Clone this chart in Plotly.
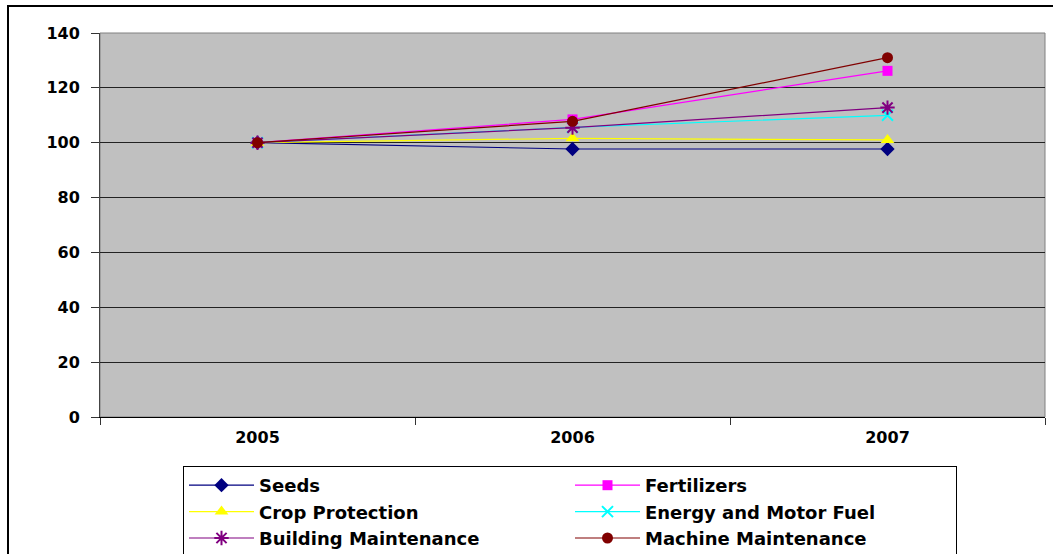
import plotly.graph_objects as go

years = ["2005", "2006", "2007"]
seeds = [100, 97.7, 97.7]
fertilizers = [100, 108.5, 126.2]
crop_protection = [100, 101.6, 101.0]
energy = [100, 105.6, 110.0]
building = [100, 105.5, 112.8]
machine = [100, 107.8, 131.0]
y_ticks = [0, 20, 40, 60, 80, 100, 120, 140]

series = [
    ("Seeds", seeds, "#000080", "diamond", 11),
    ("Fertilizers", fertilizers, "#FF00FF", "square", 10),
    ("Crop Protection", crop_protection, "#FFFF00", "triangle-up", 12),
    ("Energy and Motor Fuel", energy, "#00FFFF", "x-thin-open", 11),
    ("Building Maintenance", building, "#800080", "asterisk-open", 12),
    ("Machine Maintenance", machine, "#800000", "circle", 11),
]

fig = go.Figure()
for name, vals, color, sym, sz in series:
    fig.add_trace(go.Scatter(
        x=years, y=vals, name=name, mode="lines+markers",
        line=dict(color=color, width=1.2),
        marker=dict(symbol=sym, size=sz, color=color,
                    line=dict(color=color, width=2 if "open" in sym else 0)),
    ))

font_bold = dict(family="DejaVu Sans", size=16, color="black", weight="bold")

W, H = 1053, 554
fig.update_layout(
    width=W, height=H,
    margin=dict(l=100, r=8, t=33, b=137, autoexpand=False),
    paper_bgcolor="white",
    plot_bgcolor="#C0C0C0",
    showlegend=True,
    legend=dict(
        orientation="h", xref="container", yref="container",
        x=183 / W, xanchor="left", y=1 - 466 / H, yanchor="top",
        entrywidth=306, entrywidthmode="pixels",
        bordercolor="black", borderwidth=1, bgcolor="white",
        font=dict(family="DejaVu Sans", size=18, color="black", weight="bold"),
        itemwidth=65,
    ),
    xaxis=dict(
        type="category", range=[-0.5, 2.5], tickson="boundaries",
        ticks="outside", ticklen=7, tickcolor="#333333",
        showgrid=False, showline=True, linecolor="black", linewidth=1,
        tickfont=font_bold, mirror=False, automargin=False,
        ticklabelstandoff=6,
    ),
    yaxis=dict(
        range=[0, 140], tickvals=y_ticks, ticks="outside", ticklen=8,
        tickcolor="#333333", showgrid=True, gridcolor="#222222", gridwidth=1,
        showline=True, linecolor="#444444", linewidth=1,
        tickfont=font_bold, zeroline=False, automargin=False,
        ticklabelstandoff=8,
    ),
    shapes=[
        dict(type="rect", xref="paper", yref="paper", x0=0, x1=1, y0=0, y1=1,
             line=dict(color="#808080", width=1), layer="below"),
        dict(type="rect", xref="paper", yref="paper",
             x0=(8 - 100) / 945, x1=(1060 - 100) / 945,
             y0=(417 - 560) / 384, y1=(417 - 6) / 384,
             line=dict(color="black", width=2)),
    ],
)

fig.write_html(
    "out.html",
    config={"displayModeBar": False},
    post_script="document.body.style.margin='0';document.body.style.overflow='hidden';",
)
